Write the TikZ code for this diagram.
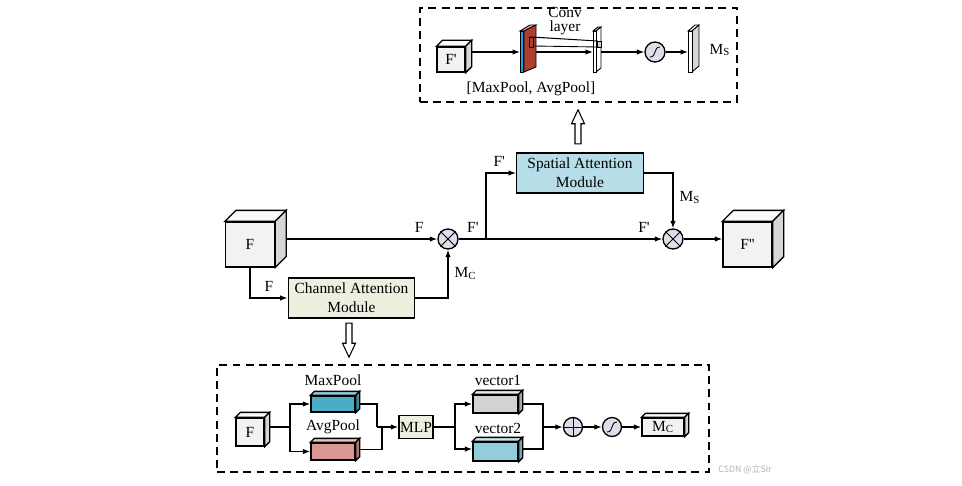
\documentclass[tikz,border=0pt]{standalone}
\usepackage{fontspec}
\setmainfont{Liberation Serif}
\newfontfamily\cjk{Noto Sans CJK SC}
\usepackage{tikz}
\usetikzlibrary{arrows.meta, positioning, calc, shapes.arrows}
\definecolor{cubeFront}{RGB}{242, 242, 242}
\definecolor{cubeTop}{RGB}{250, 250, 250}
\definecolor{cubeSide}{RGB}{214, 214, 214}
\definecolor{camGreen}{RGB}{235, 241, 222}
\definecolor{samBlue}{RGB}{183, 222, 232}
\definecolor{opLilac}{RGB}{225, 220, 234}
\definecolor{maxTeal}{RGB}{75, 172, 198}
\definecolor{avgRose}{RGB}{217, 150, 148}
\definecolor{vecGray}{RGB}{210, 210, 210}
\definecolor{vecBlue}{RGB}{146, 205, 220}
\definecolor{poolRed}{RGB}{175, 62, 50}
\definecolor{poolBlue}{RGB}{20, 165, 225}

% top and side faces of a box node: node, depth (px), top colour, side colour
\newcommand{\boxfaces}[4]{%
  \filldraw[fill=#3] (#1.north west) -- ++(#2,-#2) -- ($(#1.north east)+(#2,-#2)$) -- (#1.north east) -- cycle;
  \filldraw[fill=#4] (#1.north east) -- ++(#2,-#2) -- ($(#1.south east)+(#2,-#2)$) -- (#1.south east) -- cycle;}

\begin{document}
\begin{tikzpicture}[
    x=0.02cm, y=-0.02cm,
    font=\fontsize{8.8}{10.8}\selectfont,
    line width=0.75pt,
    cube/.style={rectangle, draw, fill=cubeFront, inner sep=0pt},
    block/.style={rectangle, draw, inner sep=0pt},
    module/.style={rectangle, draw, align=center, inner sep=0pt, minimum width=2.53cm, minimum height=0.8cm},
    opcirc/.style={circle, draw, fill=opLilac, inner sep=0pt, minimum size=0.38cm},
    arr/.style={-{Latex[length=1.5mm, width=1.1mm]}},
    hollow/.style={single arrow, draw, fill=white, line width=0.6pt, inner sep=1.4pt, single arrow head extend=2pt, single arrow tip angle=50, minimum height=0.68cm},
    dashbox/.style={draw, line width=0.8pt, dash pattern=on 4.5pt off 3pt}
]
    \useasboundingbox (0,0) rectangle (962,486);

    % Main flow: F -> channel attention -> spatial attention -> F''
    \node[cube, minimum width=0.98cm, minimum height=0.9cm] (F) at (250,244.5) {F};
    \node[cube, minimum width=0.98cm, minimum height=0.9cm] (Fpp) at (747.5,244.5) {F\textquotesingle\textquotesingle};
    \boxfaces{F}{11}{cubeTop}{cubeSide}
    \boxfaces{Fpp}{11}{cubeTop}{cubeSide}

    \node[opcirc, minimum size=0.4cm] (mulC) at (448,239) {};
    \node[opcirc, minimum size=0.4cm] (mulS) at (673,239) {};
    \foreach \m in {mulC, mulS} {
        \draw[line width=0.5pt] (\m.north west) -- (\m.south east) (\m.north east) -- (\m.south west);
    }

    \node[module, fill=camGreen] (cam) at (351.5,298) {Channel Attention\\Module};
    \node[module, fill=samBlue] (sam) at (580,173) {Spatial Attention\\Module};
    \coordinate (split) at (486,239);

    \draw[arr] ($(F.east |- mulC)+(11,0)$) -- node[above, pos=0.88] {F} (mulC.west);
    \draw[arr] (F.south) |- node[above, pos=0.75] {F} (cam.west);
    \draw[arr] (cam.east) -| node[right, pos=0.75] {M\textsubscript{C}} (mulC.south);
    \draw[arr] (mulC.east) -- node[above, pos=0.07] {F\textquotesingle} node[above, pos=0.91] {F\textquotesingle} (mulS.west);
    \draw[arr] (split) |- node[above, pos=0.72] {F\textquotesingle} (sam.west);
    \draw[arr] (sam.east) -| node[right, pos=0.72] {M\textsubscript{S}} (mulS.north);
    \draw[arr] (mulS.east) -- (Fpp.west |- mulS);

    \node[hollow, rotate=90] (upArr) at (578,130) {};
    \node[hollow, rotate=-90] (downArr) at (349,337) {};

    % Spatial attention detail (top)
    \node[dashbox, minimum width=6.34cm, minimum height=1.88cm] (samBox) at (578.5,55) {};
    \node[cube, minimum width=0.56cm, minimum height=0.5cm] (Fp) at (451,59.5) {F\textquotesingle};
    \boxfaces{Fp}{6}{cubeTop}{cubeSide}
    \coordinate (pool) at (520,52);
    \coordinate (conv) at (593,52);
    \coordinate (ms) at (688,52);
    \node[opcirc, minimum size=0.4cm] (sigA) at (655,52) {};

    \begin{scope}[line width=0.5pt]
        \filldraw[fill=avgRose!80] (520,31) -- (530,25) -- (536,25) -- (524,31) -- cycle;
        \filldraw[fill=poolRed] (524,31) -- (536,25) -- (536,67) -- (524,72) -- cycle;
        \filldraw[fill=poolBlue] (520,31) rectangle (523,72);
        \draw (529,37) rectangle (533,47);
        \filldraw[fill=gray!20] (593,31) -- (598,27) -- (601,27) -- (596,31) -- cycle;
        \filldraw[fill=white] (596,31) -- (601,27) -- (601,68) -- (596,72) -- cycle;
        \filldraw[fill=white] (593,31) rectangle (596,72);
        \filldraw[fill=gray!40] (597,41) rectangle (601,47);
        \draw (533,37) -- (598,41) (533,46) -- (598,47) (529,37) -- (597,41);
        \filldraw[fill=white] (688,31) -- (695,25) -- (699,25) -- (692,31) -- cycle;
        \filldraw[fill=cubeSide] (692,31) -- (699,25) -- (699,66) -- (692,72) -- cycle;
        \filldraw[fill=white] (688,31) rectangle (692,72);
    \end{scope}

    \draw[arr] ($(Fp.east)+(6,-7.5)$) -- (pool);
    \draw[arr] ($(pool)+(16,0)$) -- (conv);
    \draw[arr] ($(conv)+(8,0)$) -- (sigA.west);
    \draw[arr] (sigA.east) -- (ms);
    \node[align=center, font=\fontsize{8.8}{8}\selectfont] (convLbl) at (565,21) {Conv\\layer};
    \node[anchor=west] (msLbl) at (703,50) {M\textsubscript{S}};
    \node (poolLbl) at (531,89) {[MaxPool, AvgPool]};

    % Channel attention detail (bottom)
    \node[dashbox, minimum width=9.84cm, minimum height=2.14cm] (camBox) at (463,418.5) {};
    \node[cube, minimum width=0.56cm, minimum height=0.56cm] (bF) at (250,432) {F};
    \boxfaces{bF}{5}{cubeTop}{cubeSide}
    \node[block, fill=maxTeal, minimum width=0.88cm, minimum height=0.32cm] (maxp) at (333,404) {};
    \node[block, fill=avgRose, minimum width=0.88cm, minimum height=0.34cm] (avgp) at (333,451.5) {};
    \boxfaces{maxp}{4}{maxTeal!60}{maxTeal!80!black}
    \boxfaces{avgp}{4}{avgRose!60}{avgRose!80!black}
    \node (maxLbl) at (333,380) {MaxPool};
    \node (avgLbl) at (333,427) {AvgPool};
    \node[block, fill=camGreen, minimum width=0.68cm, minimum height=0.46cm] (mlp) at (416,427) {MLP};
    \node[block, fill=vecGray, minimum width=0.9cm, minimum height=0.36cm] (vec1) at (495.5,404) {};
    \node[block, fill=vecBlue, minimum width=0.9cm, minimum height=0.38cm] (vec2) at (495.5,451.5) {};
    \boxfaces{vec1}{4}{vecGray!50}{vecGray!80!black}
    \boxfaces{vec2}{4}{vecBlue!50}{vecBlue!80!black}
    \node (vec1Lbl) at (498,380) {vector1};
    \node (vec2Lbl) at (498,428) {vector2};
    \node[opcirc] (add) at (573,427) {};
    \draw[line width=0.5pt] (add.north) -- (add.south) (add.west) -- (add.east);
    \node[opcirc] (sigB) at (612,427) {};
    \node[block, fill=cubeFront, minimum width=0.84cm, minimum height=0.36cm] (mc) at (663,427) {M\textsubscript{C}};
    \boxfaces{mc}{4}{cubeTop}{cubeSide}
    \foreach \s in {sigA, sigB} {
        \draw[line width=0.5pt] ($(\s)+(-5,5)$) .. controls ($(\s)+(2,5)$) and ($(\s)+(-2,-5)$) .. ($(\s)+(5,-5)$);
    }

    \coordinate (poolSplit) at (290,427);
    \coordinate (poolJoin) at (377,427);
    \coordinate (vecSplit) at (455,427);
    \coordinate (vecJoin) at (543,427);
    \draw ($(bF.east)+(5,-5)$) -- (poolSplit);
    \draw[arr] (poolSplit) |- (maxp.west);
    \draw[arr] (poolSplit) |- (avgp.west);
    \draw ($(maxp.east)+(4,0)$) -| (poolJoin);
    \draw ($(avgp.east)+(4,-2)$) -| ($(poolJoin)+(5,0)$);
    \draw[arr] (poolJoin) -- (mlp.west);
    \draw (mlp.east) -- (vecSplit);
    \draw[arr] (vecSplit) |- (vec1.west);
    \draw[arr] (vecSplit) |- ($(vec2.west)+(0,-2.5)$);
    \draw ($(vec1.east)+(4,0)$) -| (vecJoin);
    \draw ($(vec2.east)+(4,-2.5)$) -| (vecJoin);
    \draw[arr] (vecJoin) -- (add.west);
    \draw[arr] (add.east) -- (sigB.west);
    \draw[arr] (sigB.east) -- (mc.west);

    \node[font=\cjk\fontsize{5}{6}\selectfont, text=gray!60] (mark) at (745,470) {CSDN @立Sir};
\end{tikzpicture}
\end{document}
